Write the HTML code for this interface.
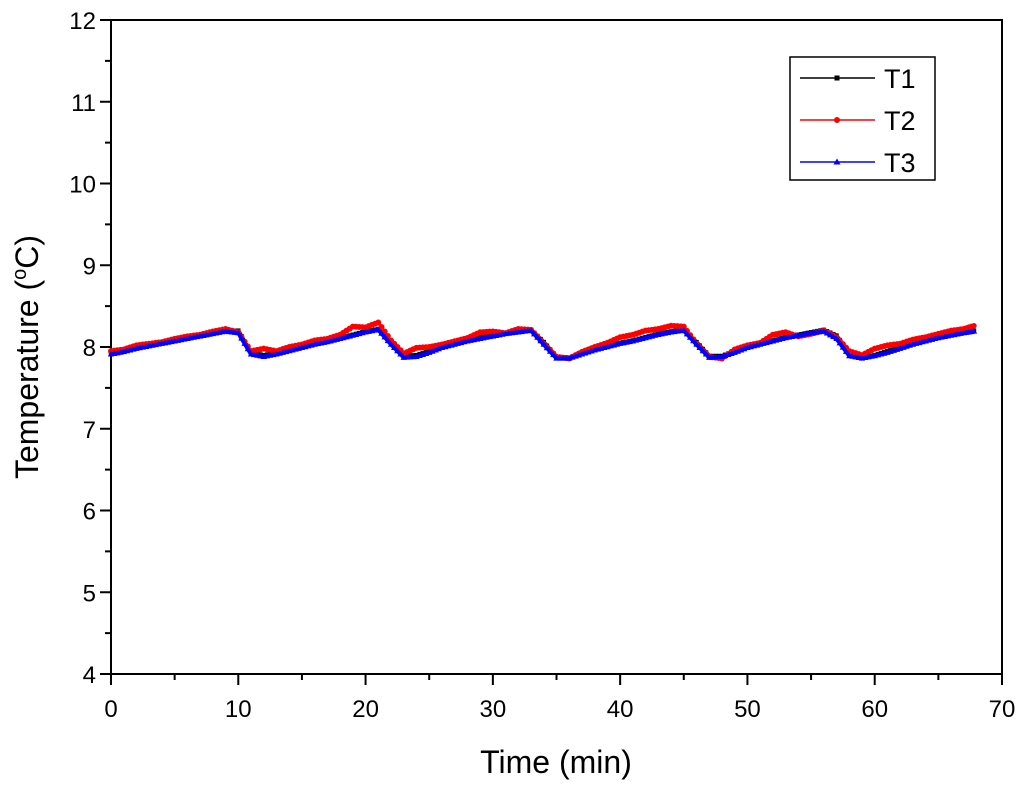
<!DOCTYPE html>
<html><head><meta charset="utf-8"><style>
body{margin:0;background:#fff}
svg{font-family:"Liberation Sans",Arial,sans-serif}
</style></head><body>
<svg id="chart" width="1024" height="787" xmlns="http://www.w3.org/2000/svg"></svg>
<script>
const times=[0,1,2,3,4,5,6,7,8,9,10,11,12,13,14,15,16,17,18,19,20,21,22,23,24,25,26,27,28,29,30,31,32,33,34,35,36,37,38,39,40,41,42,43,44,45,46,47,48,49,50,51,52,53,54,55,56,57,58,59,60,61,62,63,64,65,66,67,67.8];
const t1=[7.93,7.95,7.99,8.02,8.05,8.08,8.11,8.14,8.17,8.20,8.20,7.93,7.90,7.93,7.96,8.00,8.04,8.07,8.11,8.15,8.19,8.22,8.06,7.89,7.90,7.95,8.00,8.05,8.08,8.12,8.15,8.17,8.19,8.21,8.06,7.88,7.87,7.92,7.97,8.01,8.05,8.08,8.12,8.16,8.19,8.21,8.06,7.89,7.89,7.95,8.00,8.05,8.08,8.12,8.15,8.18,8.21,8.14,7.92,7.87,7.90,7.95,8.00,8.04,8.08,8.12,8.15,8.18,8.20];
const t2=[7.95,7.97,8.02,8.04,8.06,8.10,8.13,8.15,8.19,8.22,8.18,7.95,7.98,7.95,8.00,8.03,8.08,8.10,8.15,8.25,8.24,8.30,8.08,7.92,7.99,8.00,8.03,8.07,8.11,8.18,8.19,8.17,8.22,8.21,8.04,7.88,7.86,7.94,8.00,8.05,8.12,8.15,8.20,8.22,8.26,8.25,8.04,7.88,7.86,7.97,8.02,8.05,8.15,8.18,8.13,8.16,8.20,8.12,7.95,7.90,7.98,8.02,8.04,8.09,8.12,8.16,8.20,8.22,8.26];
const t3=[7.91,7.94,7.98,8.01,8.04,8.07,8.10,8.13,8.16,8.19,8.17,7.91,7.88,7.91,7.95,7.99,8.03,8.06,8.10,8.14,8.18,8.21,8.03,7.87,7.88,7.93,7.99,8.03,8.07,8.10,8.13,8.16,8.18,8.20,8.03,7.86,7.86,7.91,7.96,8.00,8.04,8.07,8.11,8.15,8.18,8.20,8.03,7.87,7.88,7.93,7.99,8.03,8.07,8.11,8.14,8.17,8.19,8.10,7.89,7.86,7.89,7.93,7.98,8.03,8.07,8.11,8.14,8.17,8.19];
const xTicks=[0,10,20,30,40,50,60,70];
const yTicks=[4,5,6,7,8,9,10,11,12];
const seriesNames=["T1","T2","T3"];
const NS="http://www.w3.org/2000/svg";
const svg=document.getElementById('chart');
const X0=111,X1=1002,Y0=674,Y1=20;
const xs=v=>X0+(v-0)/70*(X1-X0);
const ys=v=>Y0-(v-4)/8*(Y0-Y1);
function mk(tag,at,parent){const e=document.createElementNS(NS,tag);for(const k in at)e.setAttribute(k,at[k]);(parent||svg).appendChild(e);return e;}
let fr=mk('rect',{x:X0,y:Y1,width:X1-X0,height:Y0-Y1,fill:'none',stroke:'#000','stroke-width':2});


xTicks.forEach((v,i)=>{
  let l=mk('line',{x1:xs(v),x2:xs(v),y1:Y0,y2:Y0+11,stroke:'#000','stroke-width':2});
  
  
  if(i<xTicks.length-1){let m=mk('line',{x1:xs(v+5),x2:xs(v+5),y1:Y0,y2:Y0+6,stroke:'#000','stroke-width':2});
  
  }
  let t=mk('text',{x:xs(v),y:Y0+43,'text-anchor':'middle','font-size':24});t.textContent=v;
  
  
});
yTicks.forEach((v,i)=>{
  let l=mk('line',{x1:X0-11,x2:X0,y1:ys(v),y2:ys(v),stroke:'#000','stroke-width':2});
  
  
  if(i<yTicks.length-1){let m=mk('line',{x1:X0-6,x2:X0,y1:ys(v+0.5),y2:ys(v+0.5),stroke:'#000','stroke-width':2});
  
  }
  let t=mk('text',{x:X0-15,y:ys(v)+9,'text-anchor':'end','font-size':24});t.textContent=v;
  
  
});
let xt=mk('text',{x:556,y:773,'text-anchor':'middle','font-size':32});xt.textContent='Time (min)';


let yt=mk('text',{x:0,y:0,'text-anchor':'middle','font-size':32,transform:'translate(38,357) rotate(-90)'});
yt.innerHTML='Temperature (<tspan dy="-12" font-size="20">o</tspan><tspan dy="12">C)</tspan>';


const cols=['#000','#f00','#00f'];
function marker(g,type,x,y,c,s){
  if(type===0)mk('rect',{x:x-s,y:y-s,width:2*s,height:2*s,fill:c},g);
  else if(type===1)mk('circle',{cx:x,cy:y,r:s+0.5,fill:c},g);
  else mk('polygon',{points:`${x},${y-s-1} ${x-s-1},${y+s} ${x+s+1},${y+s}`,fill:c},g);
}
[t1,t2,t3].forEach((arr,si)=>{
  const g=mk('g',{});
  
  
  const pts=arr.map((v,i)=>xs(times[i])+','+ys(v)).join(' ');
  mk('polyline',{points:pts,fill:'none',stroke:cols[si],'stroke-width':si===1?2:4},g);
  for(let i=0;i<arr.length-1;i++){
    for(let k=0;k<4;k++){
      const f=k/4;const tt=times[i]+(times[i+1]-times[i])*f;const vv=arr[i]+(arr[i+1]-arr[i])*f;
      marker(g,si,xs(tt),ys(vv),cols[si],si===1?2.5:2.2);
    }
  }
  marker(g,si,xs(times[arr.length-1]),ys(arr[arr.length-1]),cols[si],2.2);
});
const lg=mk('g',{});


mk('rect',{x:790,y:57,width:145,height:123,fill:'#fff',stroke:'#000','stroke-width':1.5},lg);
seriesNames.forEach((n,i)=>{
  const y=78+i*42;
  const e=mk('g',{},lg);
  
  
  mk('line',{x1:800,x2:875,y1:y,y2:y,stroke:cols[i],'stroke-width':1.5},e);
  marker(e,i,837,y,cols[i],2.5);
  const t=mk('text',{x:884,y:y+10,'font-size':27},e);t.textContent=n;
});
</script>
</body></html>
